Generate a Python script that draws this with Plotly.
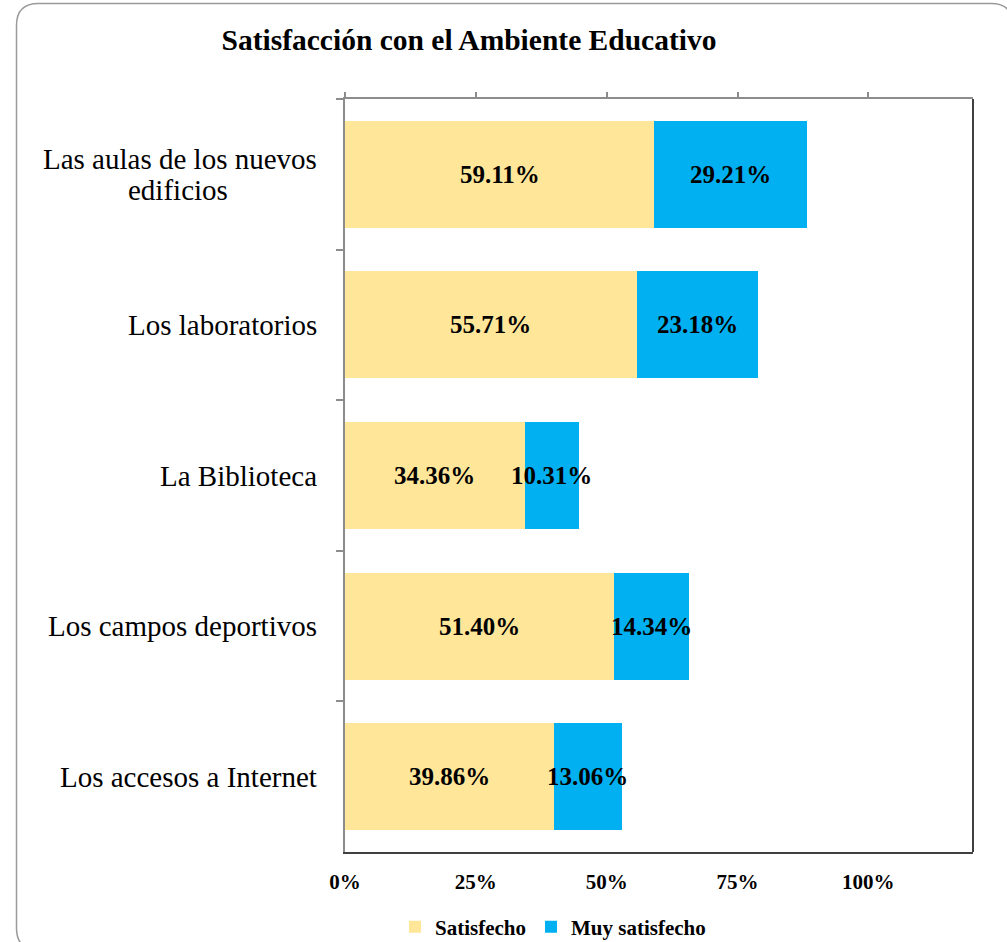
import plotly.graph_objects as go

categories = ["Las aulas de los nuevos<br>edificios", "Los laboratorios", "La Biblioteca",
              "Los campos deportivos", "Los accesos a Internet"]
satisfecho = [59.11, 55.71, 34.36, 51.40, 39.86]
muy_satisfecho = [29.21, 23.18, 10.31, 14.34, 13.06]
tick_vals = [0, 25, 50, 75, 100]
tick_text = ["0%", "25%", "50%", "75%", "100%"]
series_names = ["Satisfecho", "Muy satisfecho"]
title_text = "Satisfacción con el Ambiente Educativo"

W, H = 1007, 942
L, R, T, B = 345, 973, 99, 852
FONT = "Liberation Serif"


def px(xp):
    return (xp - L) / (R - L)


def py(yp):
    return (B - yp) / (B - T)


fig = go.Figure()
fig.add_trace(go.Bar(y=categories, x=satisfecho, name=series_names[0], orientation="h",
                     marker=dict(color="#FFE699", line=dict(width=0)), hoverinfo="x"))
fig.add_trace(go.Bar(y=categories, x=muy_satisfecho, name=series_names[1], orientation="h",
                     marker=dict(color="#00B0F0", line=dict(width=0)), hoverinfo="x"))
# invisible trace to activate the top axis
fig.add_trace(go.Scatter(x=[0], y=[categories[0]], xaxis="x2", mode="markers",
                         marker=dict(opacity=0), showlegend=False, hoverinfo="skip"))

annotations = []
LINE_GAP = 31
for c, s, m in zip(categories, satisfecho, muy_satisfecho):
    annotations.append(dict(x=s / 2, y=c, xref="x", yref="y", text=f"{s:.2f}%", showarrow=False,
                            font=dict(family=FONT, size=25, color="black", weight="bold")))
    annotations.append(dict(x=s + m / 2, y=c, xref="x", yref="y", text=f"{m:.2f}%", showarrow=False,
                            font=dict(family=FONT, size=25, color="black", weight="bold")))
    lines = c.split("<br>")
    n = len(lines)
    for i, ln in enumerate(lines):
        shift = ((n - 1) / 2 - i) * LINE_GAP
        annotations.append(dict(x=px(319) if i == 0 else px(319 - 281 / 2), y=c, xref="paper",
                                yref="y", text=ln, showarrow=False,
                                xanchor="right" if i == 0 else "center", yshift=shift,
                                font=dict(family=FONT, size=29, color="black")))

# rounded outer frame (pixel -> paper coords)
x0, y0, x1, y1, rr = 16.5, 3.5, 1013, 950, 22
path = (f"M {px(x0)},{py(y0 + rr)} Q {px(x0)},{py(y0)} {px(x0 + rr)},{py(y0)} "
        f"L {px(x1 - rr)},{py(y0)} Q {px(x1)},{py(y0)} {px(x1)},{py(y0 + rr)} "
        f"L {px(x1)},{py(y1 - rr)} Q {px(x1)},{py(y1)} {px(x1 - rr)},{py(y1)} "
        f"L {px(x0 + rr)},{py(y1)} Q {px(x0)},{py(y1)} {px(x0)},{py(y1 - rr)} Z")

shapes = [
    dict(type="path", path=path, xref="paper", yref="paper",
         line=dict(color="#9a9a9a", width=1.5), layer="below"),
    dict(type="line", xref="paper", yref="paper", x0=1, x1=1, y0=0, y1=1,
         line=dict(color="#404040", width=2)),
]

fig.update_layout(
    width=W, height=H,
    margin=dict(l=L, r=W - R, t=T, b=H - B, autoexpand=False),
    barmode="stack", bargap=0.29,
    paper_bgcolor="white", plot_bgcolor="white",
    title=dict(text=title_text, x=469 / W, xanchor="center", y=1 - 40 / H, yanchor="middle",
               font=dict(family=FONT, size=29.5, color="black", weight="bold")),
    xaxis=dict(range=[0, 120], tickvals=tick_vals, ticktext=tick_text, showgrid=False,
               zeroline=False, showline=True, linecolor="#404040", linewidth=2, ticks="",
               ticklabelstandoff=10,
               tickfont=dict(family=FONT, size=21, color="black", weight="bold")),
    xaxis2=dict(range=[0, 120], overlaying="x", side="top", matches="x", tickvals=tick_vals,
                showticklabels=False, showgrid=False, zeroline=False, showline=True,
                linecolor="#8c8c8c", linewidth=2, ticks="outside", ticklen=5,
                tickcolor="#8c8c8c", tickwidth=1.5),
    yaxis=dict(categoryorder="array", categoryarray=categories, autorange="reversed",
               showticklabels=False, showgrid=False, zeroline=False, showline=True,
               linecolor="#8c8c8c", linewidth=2, ticks="outside", ticklen=7,
               tickcolor="#8c8c8c", tickwidth=1.5, tickson="boundaries"),
    legend=dict(orientation="h", x=px(553), xanchor="center", y=py(927), yanchor="middle",
                font=dict(family=FONT, size=21, color="black", weight="bold"),
                traceorder="normal", bgcolor="rgba(0,0,0,0)", itemwidth=30),
    annotations=annotations,
    shapes=shapes,
)

fig.write_html("out.html", config={"displayModeBar": False},
               post_script="document.body.style.margin='0';document.body.style.overflow='hidden';")
